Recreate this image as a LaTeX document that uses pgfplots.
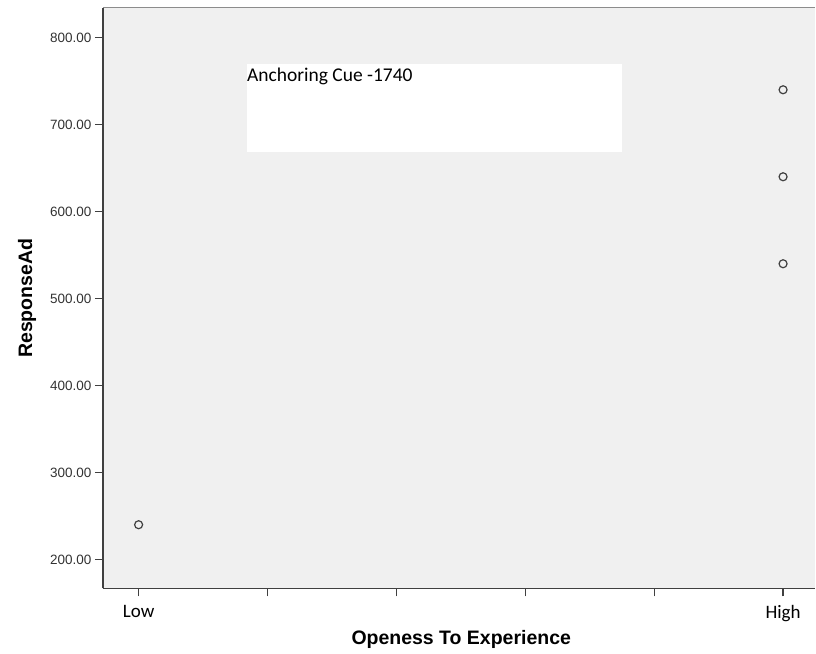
\documentclass[border=0pt]{standalone}
\usepackage{fontspec}
\setmainfont{Liberation Sans}
\newfontfamily\carlito{Carlito}
\usepackage{pgfplots}
\pgfplotsset{compat=1.18}

\definecolor{plotbg}{RGB}{240,240,240}
\definecolor{axisgray}{RGB}{64,64,64}
\definecolor{tickgray}{RGB}{50,50,50}
\definecolor{framegray}{RGB}{140,140,140}

\begin{document}
\begin{tikzpicture}
\begin{axis}[
  at={(0,0)}, anchor=south west,
  scale only axis,
  width=713bp, height=581bp,
  xmin=0.723, xmax=6.25,
  ymin=166.7, ymax=834,
  axis x line*=bottom,
  axis y line*=left,
  axis line style={axisgray, line width=1.4bp, -},
  axis background/.style={fill=plotbg},
  tick align=outside,
  major tick length=8bp,
  every tick/.style={axisgray, line width=1.2bp},
  xtick={1,2,3,4,5,6},
  xticklabels={Low,,,,,High},
  xticklabel style={font=\carlito\fontsize{19bp}{22bp}\selectfont, text=black, yshift=-5bp},
  ytick={200,300,400,500,600,700,800},
  yticklabel style={font=\fontsize{13.5bp}{16bp}\selectfont, text=tickgray},
  /pgf/number format/.cd, fixed, fixed zerofill, precision=2, 1000 sep={},
  assume math mode=true, /pgfplots/.cd,
  xlabel={Openess To Experience},
  ylabel={ResponseAd},
  xlabel style={font=\bfseries\fontsize{19.5bp}{22bp}\selectfont,
    at={(axis description cs:0.503,-0.0878)}, anchor=center},
  ylabel style={font=\bfseries\fontsize{19.5bp}{22bp}\selectfont,
    at={(axis description cs:-0.1066,0.5)}, anchor=center},
  clip=false,
]
\draw[framegray, line width=1bp] (rel axis cs:0,1) -- (rel axis cs:1,1);
\fill[white] (axis cs:1.84,669) rectangle (axis cs:4.747,769.4);
\node[anchor=base west, inner sep=0pt, font=\carlito\fontsize{19.5bp}{22bp}\selectfont]
  at (axis cs:1.84,749.1) {Anchoring Cue -1740};

\addplot[only marks, mark=o, mark size=4bp,
  mark options={draw=axisgray, line width=1.2bp}]
  coordinates {(1,240) (6,540) (6,640) (6,740)};
\end{axis}
\useasboundingbox (-103bp,-65bp) rectangle (713bp,589bp);
\end{tikzpicture}
\end{document}
